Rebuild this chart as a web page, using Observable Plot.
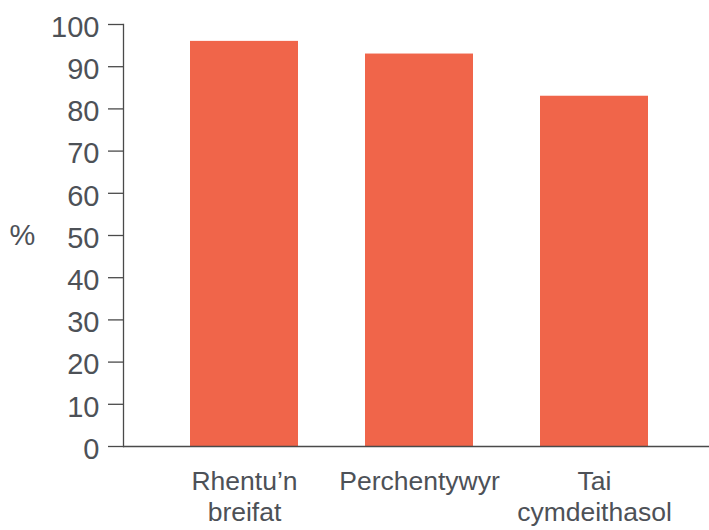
<!DOCTYPE html>
<html>
<head>
<meta charset="utf-8">
<script src="https://cdn.jsdelivr.net/npm/d3@7"></script>
<script src="https://cdn.jsdelivr.net/npm/@observablehq/plot@0.6"></script>
<style>
  body { margin: 0; background: #fff; }
  #chart svg { display: block; overflow: visible; }
</style>
</head>
<body>
<div id="chart"></div>
<script>
const categories = ["Rhentu’n breifat", "Perchentywyr", "Tai cymdeithasol"];
const values = [96, 93, 83];
const categoryLabels = ["Rhentu’n\nbreifat", "Perchentywyr", "Tai\ncymdeithasol"];
const yTicks = [0, 10, 20, 30, 40, 50, 60, 70, 80, 90, 100];
const yLabel = "%";

const data = categories.map((c, i) => ({category: c, value: values[i]}));
const labelMap = new Map(categories.map((c, i) => [c, categoryLabels[i]]));

const textColor = "#4d5157";
const lineColor = "#4a4a4a";
const barColor = "#F0654A";

const chart = Plot.plot({
  width: 709,
  height: 530,
  marginLeft: 123,
  marginRight: 0,
  marginTop: 24,
  marginBottom: 84,
  style: {fontFamily: "Liberation Sans, Arial, sans-serif", fontSize: "26px", color: textColor, background: "#fff"},
  x: {domain: categories, paddingInner: 0.385, paddingOuter: 0.36, align: 0.52, label: null},
  y: {domain: [0, 100], label: null},
  marks: [
    Plot.barY(data, {x: "category", y: "value", fill: barColor}),
    Plot.ruleY([0], {stroke: lineColor, strokeWidth: 1.3}),
    Plot.frame({anchor: "left", stroke: lineColor, strokeWidth: 1.3}),
    Plot.axisY({ticks: yTicks, tickSize: 15, tickFormat: () => "", stroke: lineColor, strokeWidth: 1.3, strokeOpacity: 1, label: null}),
    Plot.axisY({ticks: yTicks, tickSize: 0, tickPadding: 24, fill: textColor, fontSize: 29, dy: 3, label: null}),
    Plot.axisX({tickSize: 0, tickPadding: 22, tickFormat: d => labelMap.get(d), lineHeight: 1.15, fill: textColor, fontSize: 26.5, label: null}),
    Plot.text([yLabel], {frameAnchor: "left", y: [50], dx: -101, text: d => d, fill: textColor, fontSize: 29, textAnchor: "middle"})
  ]
});
document.getElementById("chart").append(chart);
</script>
</body>
</html>
